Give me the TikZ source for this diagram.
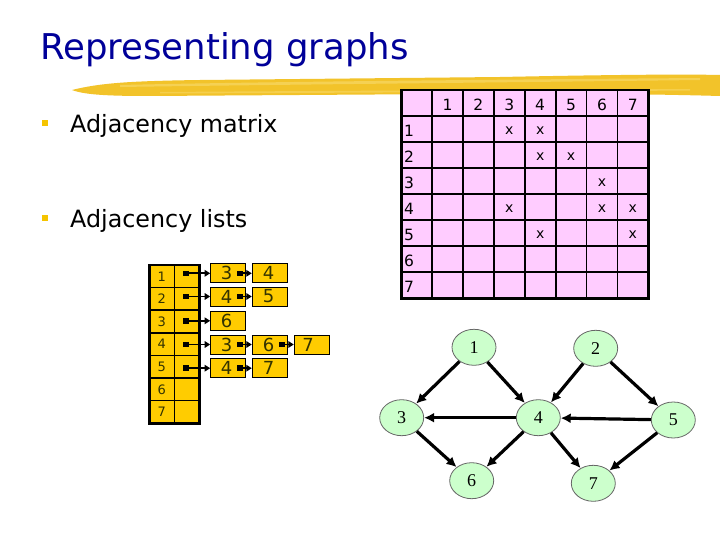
\documentclass[tikz,border=0pt]{standalone}
\usepackage{fontspec}
\setmainfont{DejaVu Sans}
\newfontfamily\gfont{Liberation Serif}
\usetikzlibrary{arrows.meta,shapes.geometric}
\definecolor{titleblue}{HTML}{000099}
\definecolor{brushc}{HTML}{F2C32A}
\definecolor{brushl}{HTML}{F7D865}
\definecolor{pinkc}{HTML}{FFCCFF}
\definecolor{goldc}{HTML}{FFCC00}
\definecolor{greenc}{HTML}{CCFFCC}
\definecolor{bulletc}{HTML}{F5C400}
\definecolor{listtxt}{HTML}{333300}
\tikzset{
  gridl/.style={line width=1.8pt, black},
  outerl/.style={line width=2.6pt, black},
  mtext/.style={inner sep=0pt, font=\fontsize{15.5}{18}\selectfont},
  xtext/.style={inner sep=0pt, font=\fontsize{14}{16}\selectfont},
  ltext/.style={inner sep=0pt, font=\fontsize{13}{16}\selectfont, text=listtxt},
  lbox/.style={draw=black, line width=1pt, fill=goldc, minimum width=35pt, minimum height=19pt, inner sep=0pt},
  ldig/.style={inner sep=0pt, font=\fontsize{18}{20}\selectfont, text=listtxt},
  ldot/.style={fill=black, minimum size=5.5pt, inner sep=0pt},
  larr/.style={line width=1.8pt, -{Triangle[length=5.5pt,width=6.5pt]}},
  gnode/.style={ellipse, draw=black!60, line width=0.8pt, fill=greenc, minimum width=44pt, minimum height=36pt, inner sep=0pt, font=\gfont\fontsize{18}{20}\selectfont},
  garr/.style={line width=3.2pt, -{Latex[length=10pt,width=10pt]}},
  bullet/.style={fill=bulletc, minimum size=6pt, inner sep=0pt},
  btext/.style={anchor=base west, inner sep=0pt, font=\fontsize{23.8}{28}\selectfont}
}
\begin{document}
\begin{tikzpicture}[x=1pt,y=-1pt]
\useasboundingbox (0,0) rectangle (720,540);
\fill[white] (0,0) rectangle (720,540);

% brush stroke
\fill[brushc] (72,90) .. controls (100,83) and (130,81) .. (200,80) -- (500,77) .. controls (600,75) and (680,74) .. (720,75) -- (720,96) .. controls (650,94) and (550,93) .. (450,94) -- (150,96) .. controls (110,96) and (85,95) .. (72,90) -- cycle;
\fill[brushl, opacity=0.7] (120,85) .. controls (250,82) and (450,80) .. (700,78) -- (700,80) .. controls (450,83) and (250,85) .. (120,87) -- cycle;
\fill[brushl, opacity=0.6] (160,92) .. controls (300,91) and (500,90) .. (690,89) -- (690,90.5) .. controls (500,92) and (300,93) .. (160,93.5) -- cycle;

% title
\node[anchor=base west, inner sep=0pt, text=titleblue, font=\fontsize{35.5}{40}\selectfont] (title) at (40,60) {Representing graphs};

% bullets
\node[bullet] (b1) at (45,123) {};
\node[btext] (am) at (70,133) {Adjacency matrix};
\node[bullet] (b2) at (45,218) {};
\node[btext] (al) at (70,228) {Adjacency lists};

% adjacency matrix
\fill[pinkc] (401.5,90) rectangle (648.3,298.3);
\foreach \x in {432.0,462.9,493.8,524.7,555.6,586.5,617.4}
  \draw[gridl] (\x,90) -- (\x,298.3);
\foreach \y in {116.3,142.3,168.3,194.3,220.3,246.3,272.3}
  \draw[gridl] (401.5,\y) -- (648.3,\y);
\draw[outerl] (401.5,90) rectangle (648.3,298.3);
\foreach \c in {1,...,7}
  \node[mtext] (h\c) at ({432+30.9*(\c-0.5)},104.5) {\c};
\foreach \r in {1,...,7}
  \node[mtext, anchor=west] (r\r) at (404,{116.3+26*(\r-0.5)+1.5}) {\r};
\foreach \r/\c in {1/3,1/4,2/4,2/5,3/6,4/3,4/6,4/7,5/4,5/7}
  \node[xtext] (x\r\c) at ({432+30.9*(\c-0.5)},{116.3+26*(\r-0.5)+1.5}) {x};

% adjacency lists: main column
\fill[goldc] (149.3,265) rectangle (199.3,423.3);
\draw[line width=1.6pt] (174.3,265) -- (174.3,423.3);
\foreach \y in {287.6,310.2,332.8,355.4,378.0,400.6}
  \draw[line width=1.6pt] (149.3,\y) -- (199.3,\y);
\draw[line width=2.6pt] (149.3,265) rectangle (199.3,423.3);
\foreach \r in {1,...,7}
  \node[ltext] (L\r) at (161.8,{265+22.6*(\r-0.5)}) {\r};

% list boxes
\foreach \r/\y in {1/273.3,2/296.5,3/320.8,4/344.5,5/368.2}
  \node[ldot] (p\r) at (186,\y) {};
\node[lbox] (b11) at (228.2,273.3) {}; \node[lbox] (b12) at (269.8,273.3) {};
\node[lbox] (b21) at (228.2,296.5) {}; \node[lbox] (b22) at (269.8,296.5) {};
\node[lbox] (b31) at (228.2,320.8) {};
\node[lbox] (b41) at (228.2,344.5) {}; \node[lbox] (b42) at (269.8,344.5) {}; \node[lbox] (b43) at (311.8,344.5) {};
\node[lbox] (b51) at (228.2,368.2) {}; \node[lbox] (b52) at (269.8,368.2) {};
% digits
\node[ldig] (t11) at (226.5,273.3) {3}; \node[ldig] (t12) at (268.5,273.3) {4};
\node[ldig] (t21) at (226.5,296.5) {4}; \node[ldig] (t22) at (268.5,296.5) {5};
\node[ldig] (t31) at (226.5,320.8) {6};
\node[ldig] (t41) at (226.5,344.5) {3}; \node[ldig] (t42) at (268.5,344.5) {6}; \node[ldig] (t43) at (308,344.5) {7};
\node[ldig] (t51) at (226.5,368.2) {4}; \node[ldig] (t52) at (268.5,368.2) {7};
% dots inside boxes
\node[ldot] (d11) at (240.2,273.3) {};
\node[ldot] (d21) at (240.2,296.5) {};
\node[ldot] (d41) at (240.2,344.5) {}; \node[ldot] (d42) at (281.8,344.5) {};
\node[ldot] (d51) at (240.2,368.2) {};
% arrows
\draw[larr] (p1.center) -- (b11.west);
\draw[larr] (d11.center) -- (b12.west);
\draw[larr] (p2.center) -- (b21.west);
\draw[larr] (d21.center) -- (b22.west);
\draw[larr] (p3.center) -- (b31.west);
\draw[larr] (p4.center) -- (b41.west);
\draw[larr] (d41.center) -- (b42.west);
\draw[larr] (d42.center) -- (b43.west);
\draw[larr] (p5.center) -- (b51.west);
\draw[larr] (d51.center) -- (b52.west);

% graph
\node[gnode] (g1) at (474,347.3) {1};
\node[gnode] (g2) at (595.7,348.3) {2};
\node[gnode] (g3) at (401.7,417.7) {3};
\node[gnode] (g4) at (538.3,417.7) {4};
\node[gnode] (g5) at (673.3,420) {5};
\node[gnode] (g6) at (471.7,480.7) {6};
\node[gnode] (g7) at (593.3,483.3) {7};
\draw[garr] (g1) -- (g3);
\draw[garr] (g1) -- (g4);
\draw[garr] (g2) -- (g4);
\draw[garr] (g2) -- (g5);
\draw[garr] (g4) -- (g3);
\draw[garr] (g5) -- (g4);
\draw[garr] (g3) -- (g6);
\draw[garr] (g4) -- (g6);
\draw[garr] (g4) -- (g7);
\draw[garr] (g5) -- (g7);
\end{tikzpicture}
\end{document}
